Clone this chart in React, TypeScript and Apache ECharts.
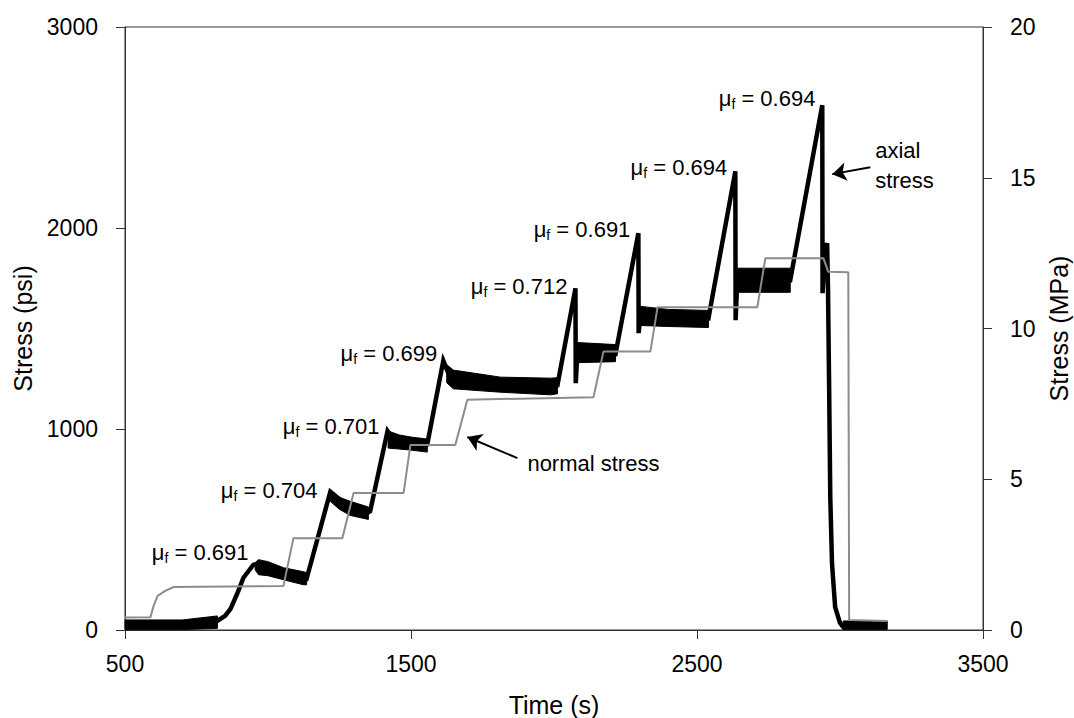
import { useEffect, useRef } from 'react';
import * as echarts from 'echarts';

const FONT = "'Liberation Sans', Arial, Helvetica, sans-serif";
const INK = '#000000';
const AXIS = '#333333';

// Normal stress (grey trace), psi versus time in seconds
const normalTime = [500, 589, 600, 614, 642, 670, 1054, 1089, 1260, 1299, 1474, 1498, 1655, 1697, 2138, 2173, 2337, 2362, 2711, 2739, 2942, 2959, 3029, 3032, 3165];
const normalPsi = [62, 64, 120, 170, 196, 214, 219, 457, 457, 681, 681, 920, 920, 1146, 1158, 1385, 1385, 1606, 1606, 1850, 1850, 1782, 1780, 50, 45];

// Axial stress (black trace), psi versus time in seconds
const axialTime = [500, 764, 823, 850, 869, 895, 914, 949, 967, 1000, 1054, 1124, 1135, 1218, 1250, 1288, 1351, 1357, 1418, 1440, 1500, 1557, 1613, 1630, 1648, 1813, 1988, 2012, 2075, 2076, 2082, 2215, 2295, 2296, 2302, 2540, 2634, 2635, 2641, 2826, 2938, 2939, 2948, 2955, 2958, 2962, 2966, 2972, 2983, 3000, 3011, 3030, 3165];
const axialPsi = [25, 30, 45, 70, 105, 190, 260, 325, 330, 310, 282, 260, 255, 688, 650, 610, 585, 590, 990, 945, 930, 925, 1340, 1280, 1250, 1222, 1212, 1218, 1700, 1228, 1382, 1372, 1974, 1477, 1565, 1550, 2282, 1541, 1745, 1740, 2611, 1676, 1900, 1924, 1700, 1208, 661, 333, 114, 35, 15, 22, 25];

// Envelope of the axial-stress noise on each hold period (psi)
const noiseTime = [
  [500, 700, 823],
  [955, 967, 1000, 1054, 1124, 1135],
  [1218, 1250, 1288, 1351],
  [1420, 1460, 1500, 1557],
  [1625, 1648, 1813, 1988, 2012],
  [2082, 2215],
  [2302, 2400, 2540],
  [2641, 2826],
  [3011, 3165],
];
const noiseLow = [
  [2, 2, 8],
  [300, 275, 270, 250, 225, 225],
  [640, 600, 570, 550],
  [905, 900, 895, 885],
  [1230, 1200, 1183, 1170, 1175],
  [1330, 1335],
  [1515, 1510, 1505],
  [1680, 1680],
  [2, 2],
];
const noiseHigh = [
  [50, 50, 70],
  [335, 350, 340, 310, 290, 285],
  [690, 660, 640, 612],
  [990, 970, 960, 950],
  [1320, 1293, 1258, 1253, 1255],
  [1430, 1420],
  [1610, 1595, 1590],
  [1800, 1800],
  [45, 45],
];

// Friction coefficient at each slip event, placed beside its peak
const frictionTime = [932, 1173, 1390, 1592, 2047, 2267, 2606, 2914];
const frictionPsi = [388, 696, 1014, 1377, 1711, 1994, 2302, 2645];
const frictionValues = ['0.691', '0.704', '0.701', '0.699', '0.712', '0.691', '0.694', '0.694'];

// Trace call-outs and their arrows
const noteTime = [1907, 3123];
const notePsi = [830, 2312];
const noteText = ['normal stress', 'axial\nstress'];
const arrowFrom = [[1872, 855], [3106, 2302]];
const arrowTo = [[1697, 960], [2973, 2268]];

// Axis ranges
const timeTicks = { min: 500, max: 3500, step: 1000 };
const psiTicks = { min: 0, max: 3000, step: 1000 };
const mpaTicks = { min: 0, max: 20, step: 5 };

const tickText = { color: INK, fontFamily: FONT, fontSize: 23, formatter: (v: number) => String(v) };
const nameText = { color: INK, fontFamily: FONT, fontSize: 25 };

function buildOption(): echarts.EChartsCoreOption {
  const pair = (ts: number[], vs: number[]) => ts.map((t, i) => [t, vs[i]]);
  return {
    animation: false,
    backgroundColor: '#ffffff',
    grid: {
      left: 125,
      right: 91,
      top: 27,
      bottom: 88,
      show: true,
      borderColor: AXIS,
      borderWidth: 1,
      backgroundColor: 'transparent',
      outerBoundsMode: 'none',
    },
    xAxis: {
      type: 'value',
      min: timeTicks.min,
      max: timeTicks.max,
      interval: timeTicks.step,
      name: 'Time (s)',
      nameLocation: 'middle',
      nameGap: 62,
      nameTextStyle: nameText,
      axisLine: { show: true, onZero: false, lineStyle: { color: AXIS, width: 1 } },
      axisTick: { show: true, length: 9, lineStyle: { color: AXIS, width: 1 } },
      axisLabel: { margin: 22, ...tickText },
      splitLine: { show: false },
    },
    yAxis: [
      {
        type: 'value',
        position: 'left',
        min: psiTicks.min,
        max: psiTicks.max,
        interval: psiTicks.step,
        name: 'Stress (psi)',
        nameLocation: 'middle',
        nameGap: 86,
        nameRotate: 90,
        nameTextStyle: nameText,
        axisLine: { show: true, onZero: false, lineStyle: { color: AXIS, width: 1 } },
        axisTick: { show: true, length: 9, lineStyle: { color: AXIS, width: 1 } },
        axisLabel: { margin: 27, ...tickText },
        splitLine: { show: false },
      },
      {
        type: 'value',
        position: 'right',
        min: mpaTicks.min,
        max: mpaTicks.max,
        interval: mpaTicks.step,
        name: 'Stress (MPa)',
        nameLocation: 'middle',
        nameGap: 62,
        nameRotate: 90,
        nameTextStyle: nameText,
        axisLine: { show: true, onZero: false, lineStyle: { color: AXIS, width: 1 } },
        axisTick: { show: true, length: 9, lineStyle: { color: AXIS, width: 1 } },
        axisLabel: { margin: 27, ...tickText },
        splitLine: { show: false },
      },
    ],
    series: [
      {
        name: 'axial noise',
        type: 'custom',
        silent: true,
        z: 2,
        data: noiseTime.map((ts, i) => [ts[0], noiseLow[i][0], i]),
        encode: { x: 0, y: 1 },
        renderItem: (_params: any, api: any) => {
          const i = api.value(2) as number;
          const ts = noiseTime[i];
          const pts: number[][] = [];
          for (let k = 0; k < ts.length; k++) pts.push(api.coord([ts[k], noiseHigh[i][k]]));
          for (let k = ts.length - 1; k >= 0; k--) pts.push(api.coord([ts[k], noiseLow[i][k]]));
          return { type: 'polygon', shape: { points: pts }, style: { fill: '#000000', stroke: '#000000', lineWidth: 1 } };
        },
      },
      {
        name: 'axial stress',
        type: 'line',
        z: 3,
        data: pair(axialTime, axialPsi),
        showSymbol: false,
        symbol: 'none',
        lineStyle: { color: '#000000', width: 4.5, join: 'miter' },
      },
      {
        name: 'normal stress',
        type: 'line',
        z: 4,
        data: pair(normalTime, normalPsi),
        showSymbol: false,
        symbol: 'none',
        lineStyle: { color: '#8c8c8c', width: 2 },
      },
      {
        name: 'friction',
        type: 'scatter',
        z: 6,
        silent: true,
        symbolSize: 0,
        itemStyle: { opacity: 1 },
        data: pair(frictionTime, frictionPsi),
        label: {
          show: true,
          position: 'left',
          distance: 0,
          color: INK,
          opacity: 1,
          formatter: (p: any) => `{mu|μ}{sub|f}{mu| = ${frictionValues[p.dataIndex]}}`,
          rich: {
            mu: { fontFamily: FONT, fontSize: 22, lineHeight: 26, color: INK },
            sub: { fontFamily: FONT, fontSize: 14, lineHeight: 14, color: INK, verticalAlign: 'bottom' },
          },
        },
      },
      {
        name: 'notes',
        type: 'scatter',
        z: 6,
        silent: true,
        symbolSize: 0,
        itemStyle: { opacity: 1 },
        data: pair(noteTime, notePsi),
        label: {
          show: true,
          position: 'right',
          distance: 0,
          align: 'left',
          opacity: 1,
          formatter: (p: any) => noteText[p.dataIndex],
          fontFamily: FONT,
          fontSize: 22,
          lineHeight: 30,
          color: INK,
        },
      },
      {
        name: 'arrows',
        type: 'lines',
        coordinateSystem: 'cartesian2d',
        z: 6,
        silent: true,
        symbol: ['none', 'arrow'],
        symbolSize: 14,
        lineStyle: { color: '#000000', width: 2, opacity: 1 },
        data: arrowFrom.map((from, i) => ({ coords: [from, arrowTo[i]] })),
      },
    ],
  };
}

export default function App() {
  const ref = useRef<HTMLDivElement>(null);
  useEffect(() => {
    if (!ref.current) return;
    const chart = echarts.init(ref.current, null, { renderer: 'svg' });
    chart.setOption(buildOption());
    return () => chart.dispose();
  }, []);
  return (
    <div
      ref={ref}
      style={{ position: 'fixed', left: 0, top: 0, width: 1074, height: 718, background: '#ffffff' }}
    />
  );
}
